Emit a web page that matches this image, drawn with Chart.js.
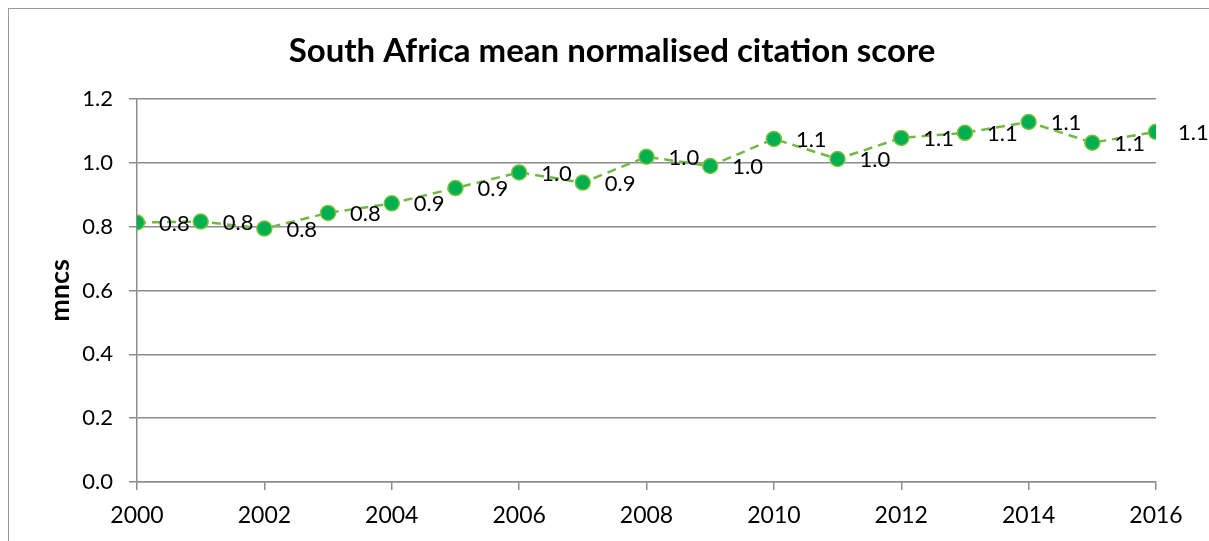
<!DOCTYPE html>
<html lang="en">
<head>
  <meta charset="UTF-8">
  <title>South Africa mean normalised citation score</title>
  <script src="https://cdn.jsdelivr.net/npm/chart.js"></script>
  <style>
    html, body { margin: 0; padding: 0; overflow: hidden; background: #fff; }
    #marco { position: absolute; left: 8px; top: 8px; width: 1400px; height: 800px; border: 1.5px solid #9a9a9a; }
    #lienzo { position: absolute; left: 0; top: 0; width: 1209px; height: 541px; }
  </style>
</head>
<body>
  <div id="marco"></div>
  <div id="lienzo"><canvas id="grafica"></canvas></div>

  <script>
    const years = [2000, 2001, 2002, 2003, 2004, 2005, 2006, 2007, 2008, 2009, 2010, 2011, 2012, 2013, 2014, 2015, 2016];
    const mncs = [0.813, 0.816, 0.794, 0.843, 0.873, 0.921, 0.970, 0.938, 1.019, 0.990, 1.075, 1.012, 1.078, 1.094, 1.128, 1.063, 1.097];
    const yTicks = [0.0, 0.2, 0.4, 0.6, 0.8, 1.0, 1.2];
    const titulo = "South Africa mean normalised citation score";

    const fuente = "Lato, 'Open Sans', sans-serif";

    // título centrado sobre todo el marco
    const tituloPlugin = {
      id: 'tituloPlugin',
      afterDraw(chart) {
        const ctx = chart.ctx;
        ctx.save();
        ctx.font = "bold 33px " + fuente;
        ctx.fillStyle = "#000";
        ctx.textAlign = "center";
        ctx.textBaseline = "middle";
        ctx.fillText(titulo, 612, 51);
        ctx.restore();
      }
    };

    // etiquetas de datos a la derecha de cada punto
    const etiquetas = {
      id: 'etiquetas',
      afterDatasetsDraw(chart) {
        const ctx = chart.ctx;
        const meta = chart.getDatasetMeta(0);
        ctx.save();
        ctx.font = "22px " + fuente;
        ctx.fillStyle = "#000";
        ctx.textAlign = "left";
        ctx.textBaseline = "middle";
        meta.data.forEach((p, i) => {
          ctx.fillText(mncs[i].toFixed(1), p.x + 22, p.y + 1);
        });
        ctx.restore();
      }
    };

    const ctx = document.getElementById("grafica").getContext("2d");
    new Chart(ctx, {
      type: "line",
      data: {
        datasets: [{
          label: "mncs",
          data: years.map((y, i) => ({ x: y, y: mncs[i] })),
          borderColor: "#72b844",
          borderWidth: 2.5,
          borderDash: [9, 6],
          pointBackgroundColor: "#00b050",
          pointBorderColor: "#7cc143",
          pointBorderWidth: 1.5,
          pointRadius: 7.5,
          fill: false,
          tension: 0
        }]
      },
      plugins: [etiquetas, tituloPlugin],
      options: {
        responsive: true,
        maintainAspectRatio: false,
        animation: false,
        layout: { padding: { left: 0, right: 53, top: 99, bottom: 0 } },
        plugins: {
          legend: { display: false },
          tooltip: { enabled: false },
          title: { display: false }
        },
        scales: {
          x: {
            type: "linear",
            min: 2000,
            max: 2016,
            afterFit(scale) { scale.height = 59; },
            ticks: {
              stepSize: 2,
              color: "#000",
              padding: 12,
              font: { family: fuente, size: 23 },
              callback: v => String(v)
            },
            grid: { drawOnChartArea: false, drawTicks: true, tickLength: 8, color: "#8c8c8c", lineWidth: 1.5 },
            border: { color: "#8c8c8c", width: 1.5 }
          },
          y: {
            min: 0,
            max: 1.2,
            afterFit(scale) { scale.width = 137; },
            afterBuildTicks(scale) { scale.ticks = yTicks.map(v => ({ value: v })); },
            ticks: {
              color: "#000",
              padding: 16,
              font: { family: fuente, size: 22 },
              callback: v => v.toFixed(1)
            },
            title: {
              display: true,
              text: "mncs",
              color: "#000",
              font: { family: fuente, size: 27, weight: "bold" },
              padding: { top: 44 }
            },
            grid: { color: "#8c8c8c", lineWidth: 1.5, tickLength: 8 },
            border: { color: "#8c8c8c", width: 1.5 }
          }
        }
      }
    });
  </script>
</body>
</html>
